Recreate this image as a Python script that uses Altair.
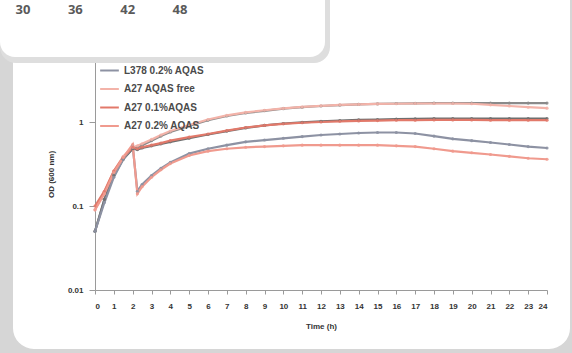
import altair as alt
import pandas as pd

# ---- data ----
times = [0, 0.5, 1, 1.5, 2, 2.25, 2.5, 3, 3.5, 4, 5, 6, 7, 8, 9, 10, 11, 12,
         13, 14, 15, 16, 17, 18, 19, 20, 21, 22, 23, 24]

l378_free = [0.05, 0.12, 0.24, 0.37, 0.48, 0.50, 0.53, 0.60, 0.68, 0.76, 0.90, 1.05, 1.18, 1.28, 1.36,
             1.44, 1.50, 1.55, 1.59, 1.62, 1.64, 1.66, 1.67, 1.68, 1.68, 1.68, 1.68, 1.68, 1.68, 1.68]
a27_free = [0.09, 0.15, 0.26, 0.39, 0.50, 0.52, 0.55, 0.62, 0.70, 0.78, 0.92, 1.07, 1.20, 1.30, 1.38,
            1.45, 1.51, 1.56, 1.60, 1.62, 1.64, 1.65, 1.66, 1.66, 1.66, 1.65, 1.60, 1.55, 1.50, 1.46]
l378_01 = [0.05, 0.12, 0.23, 0.36, 0.48, 0.47, 0.49, 0.52, 0.55, 0.58, 0.64, 0.71, 0.78, 0.85, 0.91,
           0.96, 0.99, 1.02, 1.04, 1.06, 1.07, 1.08, 1.09, 1.10, 1.10, 1.10, 1.10, 1.10, 1.10, 1.10]
a27_01 = [0.10, 0.15, 0.26, 0.38, 0.50, 0.48, 0.50, 0.53, 0.56, 0.60, 0.66, 0.72, 0.79, 0.86, 0.91,
          0.95, 0.98, 1.00, 1.02, 1.03, 1.04, 1.05, 1.05, 1.06, 1.06, 1.06, 1.05, 1.05, 1.05, 1.05]
l378_02 = [0.05, 0.11, 0.22, 0.36, 0.52, 0.15, 0.18, 0.23, 0.28, 0.33, 0.42, 0.48, 0.53, 0.58, 0.61,
           0.64, 0.67, 0.70, 0.72, 0.74, 0.75, 0.75, 0.73, 0.68, 0.63, 0.60, 0.57, 0.54, 0.51, 0.49]
a27_02 = [0.09, 0.14, 0.25, 0.38, 0.54, 0.14, 0.17, 0.22, 0.27, 0.32, 0.40, 0.45, 0.48, 0.50, 0.51,
          0.52, 0.53, 0.53, 0.53, 0.53, 0.53, 0.52, 0.51, 0.48, 0.45, 0.43, 0.41, 0.39, 0.37, 0.36]

series_names = ["L378 AQAS free", "L378 0.1% AQAS", "L378 0.2% AQAS",
                "A27 AQAS free", "A27 0.1%AQAS", "A27 0.2% AQAS"]
series_values = [l378_free, l378_01, l378_02, a27_free, a27_01, a27_02]
series_colors = ["#8a8a8a", "#6f6f6f", "#8d92a3", "#f3b3a9", "#e2796a", "#f09a8e"]
legend_shown = ["L378 0.2% AQAS", "A27 AQAS free", "A27 0.1%AQAS", "A27 0.2% AQAS"]

y_ticks = [0.01, 0.1, 1]

# fragment of the chart above (cropped axis labels)
upper_labels = [30, 36, 42, 48]

rows = []
for name, vals in zip(series_names, series_values):
    for t, v in zip(times, vals):
        rows.append({"t": t, "od": v, "series": name})
df = pd.DataFrame(rows)
one = pd.DataFrame({"k": [0]})
upper_df = pd.DataFrame({"v": upper_labels})

W, H = 452, 232

# ---- decorative panels (kept outside the axes) ----
frame = alt.Chart(one).mark_rect(fill="transparent", stroke="#d6d6d6", strokeWidth=30,
                                 cornerRadius=36).encode(
    x=alt.value(-97), x2=alt.value(W + 38), y=alt.value(-300), y2=alt.value(H + 74))

top_shadow = alt.Chart(one).mark_rect(fill="#dedede", cornerRadius=16).encode(
    x=alt.value(-95), x2=alt.value(235), y=alt.value(-80), y2=alt.value(5))
top_panel = alt.Chart(one).mark_rect(fill="white", cornerRadius=15).encode(
    x=alt.value(-95), x2=alt.value(230), y=alt.value(-80), y2=alt.value(-1))

x_scale = alt.Scale(domain=[0, 24], nice=False)
y_scale = alt.Scale(type="log", domain=[0.01, 5.78], nice=False)

x_axis = alt.Axis(title="Time (h)", tickCount=24, labelOverlap=False)
y_axis = alt.Axis(values=y_ticks, format="~g", title="OD (600 nm)", labelOverlap=False)

# labels of the cropped axis above, placed on their own 30..48 axis
upper_text = alt.Chart(upper_df).transform_calculate(
    tx="-3.824 + (datum.v - 30) * 0.4632"
).mark_text(font="Open Sans", fontSize=13, fontWeight="bold", color="#5a5a5a").encode(
    x=alt.X("tx:Q", scale=x_scale, axis=x_axis), y=alt.value(-48), text=alt.Text("v:Q"))

color_scale = alt.Scale(domain=series_names, range=series_colors)

lines = alt.Chart(df).mark_line(strokeWidth=2.2).encode(
    x=alt.X("t:Q", scale=x_scale, axis=x_axis),
    y=alt.Y("od:Q", scale=y_scale, axis=y_axis),
    color=alt.Color("series:N", scale=color_scale, sort=series_names,
                    legend=alt.Legend(values=legend_shown, title=None, orient="none",
                                      legendX=4, legendY=2, symbolType="stroke",
                                      symbolSize=350, symbolStrokeWidth=2,
                                      labelFontSize=10, labelFont="Liberation Sans",
                                      labelFontWeight="bold", labelColor="#4a4a4a",
                                      rowPadding=2.5, padding=0)),
    detail="series:N",
)

points = alt.Chart(df).mark_point(size=10, filled=True, opacity=0.9).encode(
    x=alt.X("t:Q", scale=x_scale, axis=x_axis),
    y=alt.Y("od:Q", scale=y_scale, axis=y_axis),
    color=alt.Color("series:N", scale=color_scale, legend=None),
)

chart = alt.layer(
    frame, top_shadow, lines, points, top_panel, upper_text
).properties(
    width=W, height=H,
    autosize=alt.AutoSizeParams(type="none"),
    padding={"left": 95, "top": 58, "right": 25, "bottom": 63},
    background="white",
).configure_view(stroke=None).configure_axis(
    grid=False,
    labelFont="Liberation Sans", labelFontSize=8, labelFontWeight="bold", labelColor="#333",
    titleFont="Liberation Sans", titleFontSize=8, titleFontWeight="bold", titleColor="#333",
    domainColor="#9a9a9a", tickColor="#9a9a9a",
).configure_axisX(
    tickSize=4, labelPadding=8, titlePadding=12,
).configure_axisY(
    tickSize=6, labelPadding=6, titlePadding=12,
)

chart.save("out.html", embed_options={"renderer": "svg", "actions": False})
